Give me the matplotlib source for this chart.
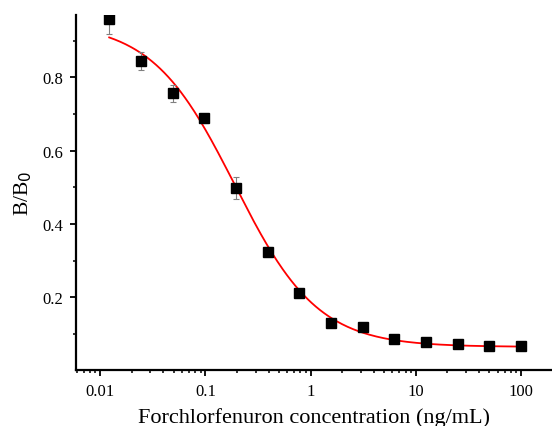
import numpy as np
import matplotlib
matplotlib.use('Agg')
import matplotlib.pyplot as plt
from matplotlib.ticker import FixedLocator, LogLocator, NullFormatter, FuncFormatter

# ── Data ──────────────────────────────────────────────────
conc   = [0.0122, 0.0244, 0.0488, 0.0977, 0.195, 0.39, 0.78,
          1.56, 3.125, 6.25, 12.5, 25, 50, 100]
b_b0   = [0.959, 0.844, 0.756, 0.688, 0.498, 0.325, 0.212,
          0.131, 0.120, 0.087, 0.079, 0.072, 0.068, 0.068]
err    = [0.040, 0.025, 0.023, 0.012, 0.030, 0.012, 0.008,
          0.006, 0.010, 0.006, 0.005, 0.005, 0.004, 0.004]

# four-parameter logistic fit parameters (top, slope, IC50, bottom)
fit_top, fit_slope, fit_ic50, fit_bottom = 0.95, 1.1, 0.19, 0.065

plt.rcParams['font.family'] = 'Liberation Serif'

fig = plt.figure(figsize=(5.52, 4.27), dpi=100)
ax = fig.add_axes([76/552, 1 - 371/427, 1 - 76/552, (371 - 16)/427])

xf = np.logspace(np.log10(conc[0]), np.log10(conc[-1]), 300)
yf = fit_bottom + (fit_top - fit_bottom) / (1 + (xf / fit_ic50) ** fit_slope)
ax.plot(xf, yf, color='red', lw=1.3, zorder=2)

ax.errorbar(conc, b_b0, yerr=err, fmt='s', color='black', ms=6.5,
            ecolor='#808080', elinewidth=0.8, capsize=2.5, capthick=0.8, zorder=3)

ax.set_xscale('log')
ax.set_xlim(0.0059, 197)
ax.set_ylim(0.002, 0.97)

ax.yaxis.set_major_locator(FixedLocator([0.2, 0.4, 0.6, 0.8]))
ax.yaxis.set_minor_locator(FixedLocator([0.1, 0.3, 0.5, 0.7, 0.9]))
ax.xaxis.set_major_locator(FixedLocator([0.01, 0.1, 1, 10, 100]))
ax.xaxis.set_minor_locator(LogLocator(base=10, subs=np.arange(2, 10)))
ax.xaxis.set_minor_formatter(NullFormatter())
ax.xaxis.set_major_formatter(FuncFormatter(lambda v, p: f'{v:g}'))

for s in ['top', 'right']:
    ax.spines[s].set_visible(False)
for s in ['left', 'bottom']:
    ax.spines[s].set_linewidth(1.6)

ax.tick_params(which='major', direction='out', length=4.5, width=1.3, labelsize=12)
ax.tick_params(axis='x', which='major', pad=5)
ax.tick_params(axis='y', which='major', pad=5)
ax.tick_params(which='minor', direction='out', length=2.5, width=1.1)

ax.set_xlabel('Forchlorfenuron concentration (ng/mL)', fontsize=16)
ax.xaxis.set_label_coords(0.5, -0.104)
ax.set_ylabel('B/B$_0$', fontsize=15.5, labelpad=6)

fig.savefig('out.png', dpi=100)
